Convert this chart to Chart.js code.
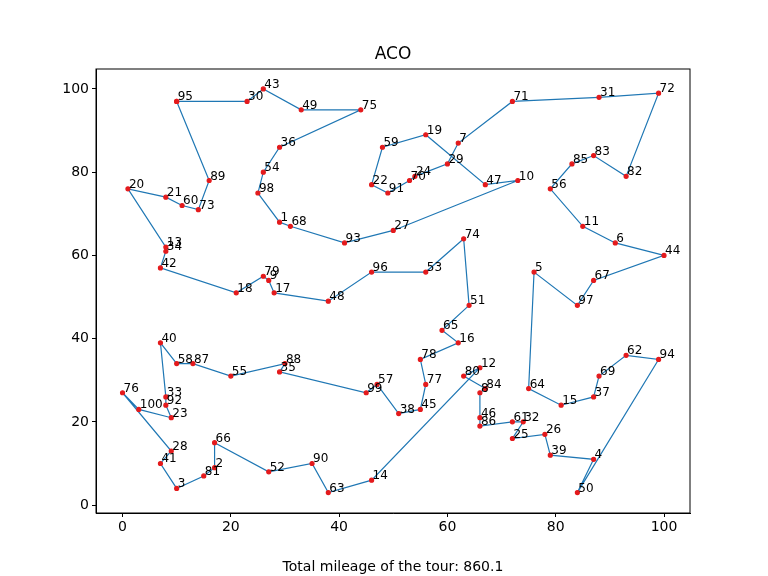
<!DOCTYPE html>
<html>
<head>
<meta charset="utf-8">
<script src="https://cdn.jsdelivr.net/npm/chart.js@4"></script>
<style>body{margin:0;background:#fff}</style>
</head>
<body>
<canvas id="c" width="768" height="576"></canvas>
<script>
// city coordinates, index = city number - 1
const cityX = [29,17,10,87,76,91,62,66,27,73,85,66,8,46,81,62,28,21,56,1,
  8,46,9,54,72,78,50,9,60,23,88,74,8,8,29,29,87,51,79,7,
  7,7,26,100,55,66,67,38,33,84,64,27,56,26,20,79,47,10,48,11,
  72,93,38,75,59,17,87,31,88,53,72,99,14,63,44,0,56,55,26,63,
  15,93,87,67,83,66,13,30,16,35,49,8,41,99,10,46,84,25,45,3];
const cityY = [68,9,4,11,56,63,87,27,54,78,67,33,62,6,24,39,51,51,89,76,
  74,77,21,79,16,17,66,13,82,97,98,20,26,61,32,86,26,22,12,39,
  10,57,100,60,23,21,77,49,95,3,48,8,56,80,31,76,29,34,86,72,
  20,36,3,28,42,15,54,67,31,78,97,99,71,64,95,27,29,35,55,31,
  7,79,84,28,82,19,34,34,78,10,75,24,63,35,97,56,48,75,27,23];
const tour = [95,30,43,49,75,36,54,98,1,68,93,27,10,47,19,59,22,91,70,24,29,7,71,31,72,82,83,85,56,11,6,44,67,97,5,64,15,37,69,62,94,50,4,39,26,25,32,61,86,46,8,84,80,12,14,63,90,52,66,2,81,3,41,28,76,100,23,92,33,40,58,87,55,88,35,99,57,38,45,77,78,16,65,51,74,53,96,48,17,9,79,18,42,34,13,20,21,60,73,89,95];
const tickVals = [0,20,40,60,80,100];
const totalMileage = 860.1;

const pts = tour.map(n => ({x: cityX[n-1], y: cityY[n-1], n: n}));

const labelPlugin = {
  id: 'labels',
  afterDatasetsDraw(chart) {
    const ctx = chart.ctx, xs = chart.scales.x, ys = chart.scales.y;
    ctx.save();
    ctx.font = '12px "DejaVu Sans"';
    ctx.fillStyle = '#000';
    ctx.textBaseline = 'alphabetic';
    for (let i = 0; i < cityX.length; i++) {
      ctx.fillText(String(i + 1), xs.getPixelForValue(cityX[i]) + 1, ys.getPixelForValue(cityY[i]) - 1);
    }
    ctx.font = '17px "DejaVu Sans"';
    ctx.textAlign = 'center';
    ctx.fillText('ACO', (chart.chartArea.left + chart.chartArea.right) / 2, 59);
    ctx.restore();
  }
};

const tickFont = { size: 14, family: 'DejaVu Sans' };
const axisGrid = { display: true, drawOnChartArea: false, drawTicks: true, tickLength: 4, color: '#000' };

new Chart(document.getElementById('c'), {
  type: 'scatter',
  data: {
    datasets: [{
      data: pts,
      showLine: true,
      borderColor: '#1f77b4',
      borderWidth: 1.2,
      pointBackgroundColor: '#e41a1c',
      pointBorderColor: '#e41a1c',
      pointRadius: 2,
      tension: 0
    }]
  },
  options: {
    responsive: false,
    animation: false,
    layout: { padding: { top: 69, right: 78, left: 0, bottom: 0 } },
    plugins: { legend: { display: false }, tooltip: { enabled: false } },
    scales: {
      x: {
        min: -4.9, max: 104.8,
        afterBuildTicks: s => { s.ticks = tickVals.map(v => ({value: v})); },
        afterFit: s => { s.height = 63; },
        grid: axisGrid,
        border: { color: '#000' },
        ticks: { color: '#000', font: tickFont, padding: 2 },
        title: { display: true, text: 'Total mileage of the tour: ' + totalMileage, color: '#000', font: tickFont, padding: { top: 4, bottom: 0 } }
      },
      y: {
        min: -1.9, max: 104.8,
        afterBuildTicks: s => { s.ticks = tickVals.map(v => ({value: v})); },
        afterFit: s => { s.width = 96; },
        grid: axisGrid,
        border: { color: '#000' },
        ticks: { color: '#000', font: tickFont, padding: 3 }
      }
    }
  },
  plugins: [labelPlugin, {
    id: 'box',
    afterDraw(chart) {
      const a = chart.chartArea, ctx = chart.ctx;
      ctx.save(); ctx.strokeStyle = '#000'; ctx.lineWidth = 1;
      ctx.strokeRect(a.left, a.top, a.right - a.left, a.bottom - a.top);
      ctx.restore();
    }
  }]
});
</script>
</body>
</html>
